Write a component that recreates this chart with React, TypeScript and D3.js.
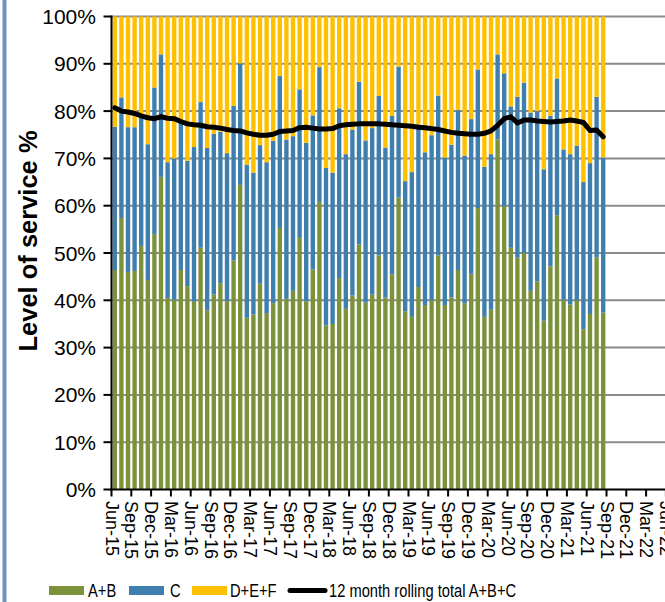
import React from "react";
import * as d3 from "d3";

// A+B share (%) per month, Jun-15 .. Aug-21
const abValues = [
  46.4, 57.4, 46.0, 46.2, 51.5, 44.3, 54.0, 66.1, 40.5, 40.1, 46.4, 43.0,
  39.7, 51.1, 37.9, 41.2, 43.6, 39.8, 48.4, 64.4, 36.3, 37.0, 43.5, 37.3,
  39.4, 55.3, 40.3, 42.0, 53.2, 39.8, 46.5, 60.8, 34.7, 35.0, 44.7, 38.2,
  41.0, 51.8, 39.5, 41.2, 49.5, 40.6, 45.5, 61.7, 37.7, 36.5, 42.8, 39.0,
  40.0, 49.5, 39.0, 40.6, 46.4, 39.4, 45.6, 59.5, 36.5, 38.0, 74.0, 59.9,
  51.1, 49.0, 50.0, 42.0, 44.0, 35.7, 47.2, 58.0, 40.1, 39.1, 40.0, 33.9,
  37.1, 49.1, 37.4,
];
// A+B+C cumulative share (%) per month
const abcValues = [
  76.7, 82.9, 76.6, 76.6, 78.6, 73.0, 85.0, 92.0, 69.2, 70.0, 77.6, 69.5,
  72.4, 81.9, 72.2, 75.2, 75.6, 71.1, 81.1, 90.1, 68.7, 67.0, 72.8, 69.2,
  73.7, 87.4, 74.0, 74.7, 84.6, 73.3, 79.1, 89.3, 68.0, 67.0, 80.6, 70.9,
  76.1, 86.2, 73.8, 76.4, 83.2, 72.3, 79.0, 89.4, 65.2, 67.1, 77.2, 71.3,
  74.9, 83.3, 70.2, 72.9, 80.2, 70.6, 78.3, 88.8, 68.2, 70.9, 92.0, 88.0,
  81.0, 83.0, 86.0, 79.7, 80.0, 67.7, 79.0, 86.9, 71.9, 70.9, 72.7, 65.0,
  69.0, 83.0, 70.2,
];
// 12 month rolling total A+B+C (%)
const rollingValues = [
  80.7, 80.0, 79.8, 79.5, 79.0, 78.6, 78.4, 78.8, 78.5, 78.4, 77.8, 77.3,
  77.1, 77.0, 76.7, 76.6, 76.4, 76.1, 75.9, 75.8, 75.4, 75.1, 74.9, 74.9,
  75.1, 75.7, 75.8, 75.9, 76.5, 76.6, 76.4, 76.2, 76.2, 76.3, 76.9, 77.1,
  77.2, 77.3, 77.3, 77.3, 77.3, 77.2, 77.1, 77.0, 76.9, 76.8, 76.6, 76.5,
  76.3, 76.1, 75.8, 75.5, 75.3, 75.2, 75.1, 75.1, 75.3, 75.8, 77.0, 78.4,
  78.8, 77.5, 78.1, 78.1, 77.9, 77.8, 77.7, 77.8, 77.9, 78.1, 77.9, 77.6,
  75.9, 76.0, 74.6,
];
const yTicks = [0, 10, 20, 30, 40, 50, 60, 70, 80, 90, 100];
const seriesNames = ["A+B", "C", "D+E+F", "12 month rolling total A+B+C"];
const colors = { ab: "#7B923A", c: "#3E7FAE", def: "#FFC000", line: "#000000" };

const fmt = d3.timeFormat("%b-%y");
const axisMonths = d3.timeMonth.range(new Date(2015, 5, 1), new Date(2023, 0, 1)).map(fmt);
const barMonths = axisMonths.slice(0, abValues.length);

const W = 665;
const H = 602;
const FONT = "'Liberation Sans', Arial, Helvetica, sans-serif";

export default function App() {
  const x0 = 111.5;
  const step = 6.6;
  const x = d3.scaleBand<string>().domain(axisMonths).range([x0, x0 + step * axisMonths.length]).padding(0);
  const y = d3.scaleLinear().domain([0, 100]).range([489.5, 16.5]);
  const bw = x.bandwidth() * 0.66;
  const off = (x.bandwidth() - bw) / 2;
  const cx = (m: string) => (x(m) as number) + x.bandwidth() / 2;

  const line = d3
    .line<number>()
    .x((_, i) => cx(barMonths[i]))
    .y((v) => y(v));

  const tickMonths = axisMonths.filter((_, i) => i % 3 === 0);

  return (
    <svg width={W} height={H} style={{ position: "absolute", left: 0, top: 0, background: "#fff" }} fontFamily={FONT}>
      <rect x={0} y={0} width={W} height={H} fill="#fff" />
      <rect x={2.5} y={0} width={4} height={H} fill="#6D95C2" />
      {/* gridlines */}
      {yTicks.filter((t) => t > 0).map((t) => (
        <line key={t} x1={x0} x2={W + 5} y1={y(t)} y2={y(t)} stroke="#8A8A8A" strokeWidth={2} />
      ))}
      {/* bars */}
      {barMonths.map((m, i) => (
        <g key={m}>
          <rect x={(x(m) as number) + off} width={bw} y={y(abValues[i])} height={y(0) - y(abValues[i])} fill={colors.ab} />
          <rect x={(x(m) as number) + off} width={bw} y={y(abcValues[i])} height={y(abValues[i]) - y(abcValues[i])} fill={colors.c} />
          <rect x={(x(m) as number) + off} width={bw} y={y(100)} height={y(abcValues[i]) - y(100)} fill={colors.def} />
        </g>
      ))}
      {/* rolling line */}
      <path d={line(rollingValues) || ""} fill="none" stroke={colors.line} strokeWidth={5} strokeLinejoin="round" strokeLinecap="round" />
      {/* axes */}
      <line x1={x0} x2={x0} y1={y(100) - 1} y2={y(0) + 1} stroke="#000" strokeWidth={2} />
      <line x1={x0 - 1} x2={W + 5} y1={y(0)} y2={y(0)} stroke="#000" strokeWidth={2} />
      {yTicks.map((t) => (
        <g key={t}>
          <line x1={x0 - 8} x2={x0} y1={y(t)} y2={y(t)} stroke="#000" strokeWidth={2} />
          <text x={96} y={y(t)} textAnchor="end" dominantBaseline="central" fontSize={21} fill="#000">
            {t}%
          </text>
        </g>
      ))}
      {tickMonths.map((m) => {
        const tx = x(m) as number;
        return (
          <g key={m}>
            <line x1={tx} x2={tx} y1={y(0)} y2={y(0) + 7} stroke="#000" strokeWidth={2} />
            <text transform={`translate(${tx},${501}) rotate(90)`} textAnchor="start" dominantBaseline="central" fontSize={18} fill="#000">
              {m}
            </text>
          </g>
        );
      })}
      {/* y title */}
      <text transform={`translate(${28},${241}) rotate(-90)`} textAnchor="middle" dominantBaseline="central" fontSize={25.5} fontWeight="bold" fill="#000">
        Level of service %
      </text>
      {/* legend */}
      <g>
        <rect x={49} y={586} width={35} height={9} fill={colors.ab} />
        <text transform="translate(88,597) scale(0.84,1)" fontSize={17.5} fill="#000">{seriesNames[0]}</text>
        <rect x={129} y={586} width={35} height={9} fill={colors.c} />
        <text transform="translate(170,597) scale(0.84,1)" fontSize={17.5} fill="#000">{seriesNames[1]}</text>
        <rect x={192} y={586} width={35} height={9} fill={colors.def} />
        <text transform="translate(230,597) scale(0.84,1)" fontSize={17.5} fill="#000">{seriesNames[2]}</text>
        <line x1={290} x2={325} y1={590.5} y2={590.5} stroke="#000" strokeWidth={5} strokeLinecap="round" />
        <text transform="translate(329,597) scale(0.84,1)" fontSize={17.5} fill="#000">{seriesNames[3]}</text>
      </g>
    </svg>
  );
}
